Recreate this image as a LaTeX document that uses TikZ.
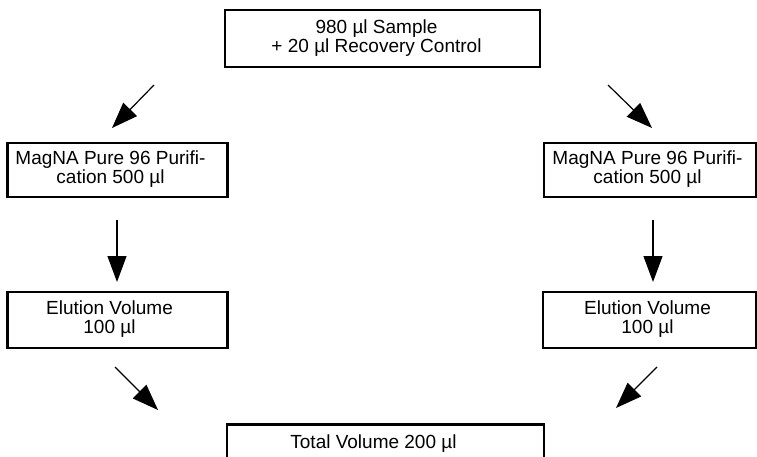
\documentclass[tikz,border=0pt]{standalone}
\usepackage{fontspec}
\setmainfont{Liberation Sans}
\usetikzlibrary{arrows.meta}
\newcommand{\twolines}[3]{\raisebox{-2.5pt}{\begin{tabular}{@{}c@{}}#1\\#2\end{tabular}}\hspace*{#3}}
\begin{document}
\begin{tikzpicture}[x=1pt,y=-1pt,
  box/.style={draw=black, line width=2.5pt, inner sep=0pt,
    font=\fontsize{19}{18}\selectfont},
  flow/.style={draw=black, line width=1.2pt, -{Triangle[length=26pt,width=19pt]}}]
\useasboundingbox (0,0) rectangle (757,457);
\clip (0,0) rectangle (757,457);
\node[box, minimum width=315pt, minimum height=57pt] (top) at (382.5,38.5)
  {\twolines{980 µl Sample}{+ 20 µl Recovery Control}{12pt}};
\node[box, minimum width=220pt, minimum height=54pt] (magL) at (117.5,170)
  {\twolines{MagNA Pure 96 Purifi-}{cation 500 µl}{14pt}};
\node[box, minimum width=212pt, minimum height=54pt] (magR) at (650,170)
  {\twolines{MagNA Pure 96 Purifi-}{cation 500 µl}{5pt}};
\node[box, minimum width=220pt, minimum height=56pt] (eluL) at (117.5,320)
  {\twolines{Elution Volume}{100 µl}{16pt}};
\node[box, minimum width=213pt, minimum height=56pt] (eluR) at (649.5,320)
  {\twolines{Elution Volume}{100 µl}{4pt}};
\node[box, minimum width=317pt, anchor=north, inner ysep=10pt, text depth=40pt] (total) at (385.5,423)
  {Total Volume 200 µl\hspace*{24pt}};
\coordinate (a1s) at (154,85);  \coordinate (a1e) at (112,128);
\coordinate (a2s) at (608,85);  \coordinate (a2e) at (652,128);
\coordinate (a3s) at (117,220); \coordinate (a3e) at (117,282);
\coordinate (a4s) at (653,220); \coordinate (a4e) at (653,282);
\coordinate (a5s) at (115,367); \coordinate (a5e) at (158,410);
\coordinate (a6s) at (657,367); \coordinate (a6e) at (616,408);
\draw[flow] (a1s) -- (a1e);
\draw[flow] (a2s) -- (a2e);
\draw[flow] (a3s) -- (a3e);
\draw[flow] (a4s) -- (a4e);
\draw[flow] (a5s) -- (a5e);
\draw[flow] (a6s) -- (a6e);
\end{tikzpicture}
\end{document}
